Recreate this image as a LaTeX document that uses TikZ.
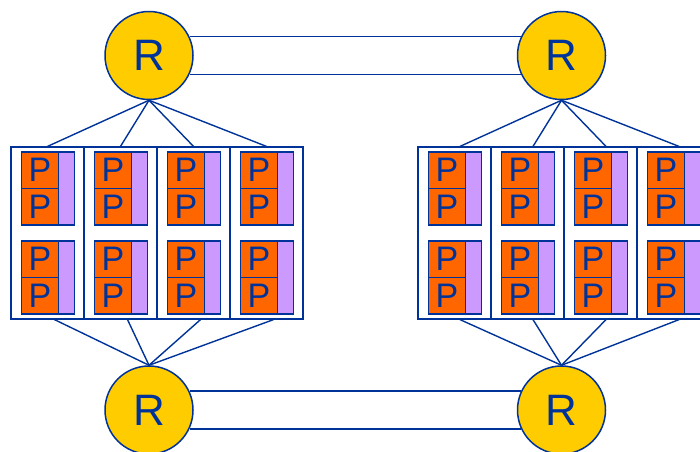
\documentclass[tikz,border=0pt]{standalone}
\usepackage{fontspec}
\setmainfont{Liberation Sans}
\definecolor{navy}{RGB}{0,51,153}
\definecolor{gold}{RGB}{255,204,0}
\definecolor{chiporange}{RGB}{255,102,0}
\definecolor{lilac}{RGB}{204,153,255}
\begin{document}
\begin{tikzpicture}[x=1pt,y=-1pt,
  router/.style={circle,draw=navy,fill=gold,line width=1.5pt,minimum size=88pt,
    inner sep=0pt,text=navy,font=\fontsize{44}{44}\selectfont},
  column/.style={draw=navy,line width=1.2pt,minimum width=73pt,minimum height=172pt,inner sep=0pt},
  proc/.style={draw=navy,fill=chiporange,line width=1.8pt,minimum width=37pt,
    minimum height=36.5pt,inner sep=0pt,text=navy,font=\fontsize{34}{34}\selectfont},
  mem/.style={draw=navy,fill=lilac,line width=1.8pt,minimum width=16pt,minimum height=73pt,inner sep=0pt},
  link/.style={draw=navy,line width=1.4pt}]
\useasboundingbox (0,0) rectangle (700,451);

% routers
\node[router] (TL) at (149,55.5) {R};
\node[router] (TR) at (561.5,55.5) {R};
\node[router] (BL) at (149,410) {R};
\node[router] (BR) at (561.5,410) {R};

% double links between routers
\draw[link] (TL.25) -- (TR.155);
\draw[link] (TL.-25) -- (TR.-155);
\draw[link] (BL.25) -- (BR.155);
\draw[link] (BL.-25) -- (BR.-155);

% two boards of four columns, each column with two processor pairs and memory
\foreach \bside/\bx in {L/11, Q/418}{
  \foreach \i in {1,...,4}{
    \pgfmathsetmacro{\cl}{\bx+73*(\i-1)}
    \node[column] (\bside\i) at (\cl+36.5,233) {};
    \foreach \j/\yc in {1/188.5, 2/277.5}{
      \node[mem] (\bside\i-m\j) at (\cl+55.5,\yc) {};
      \node[proc] (\bside\i-a\j) at (\cl+29,\yc-18.25) {P};
      \node[proc] (\bside\i-b\j) at (\cl+29,\yc+18.25) {P};
    }
  }
}

% fan-out from routers to the columns
\foreach \i in {1,...,4}{
  \draw[link] (TL.south) -- (L\i.north);
  \draw[link] (BL.north) -- ([xshift=7pt]L\i.south);
  \draw[link] (TR.south) -- ([xshift=5.5pt]Q\i.north);
  \draw[link] (BR.north) -- ([xshift=5.5pt]Q\i.south);
}
\end{tikzpicture}
\end{document}
